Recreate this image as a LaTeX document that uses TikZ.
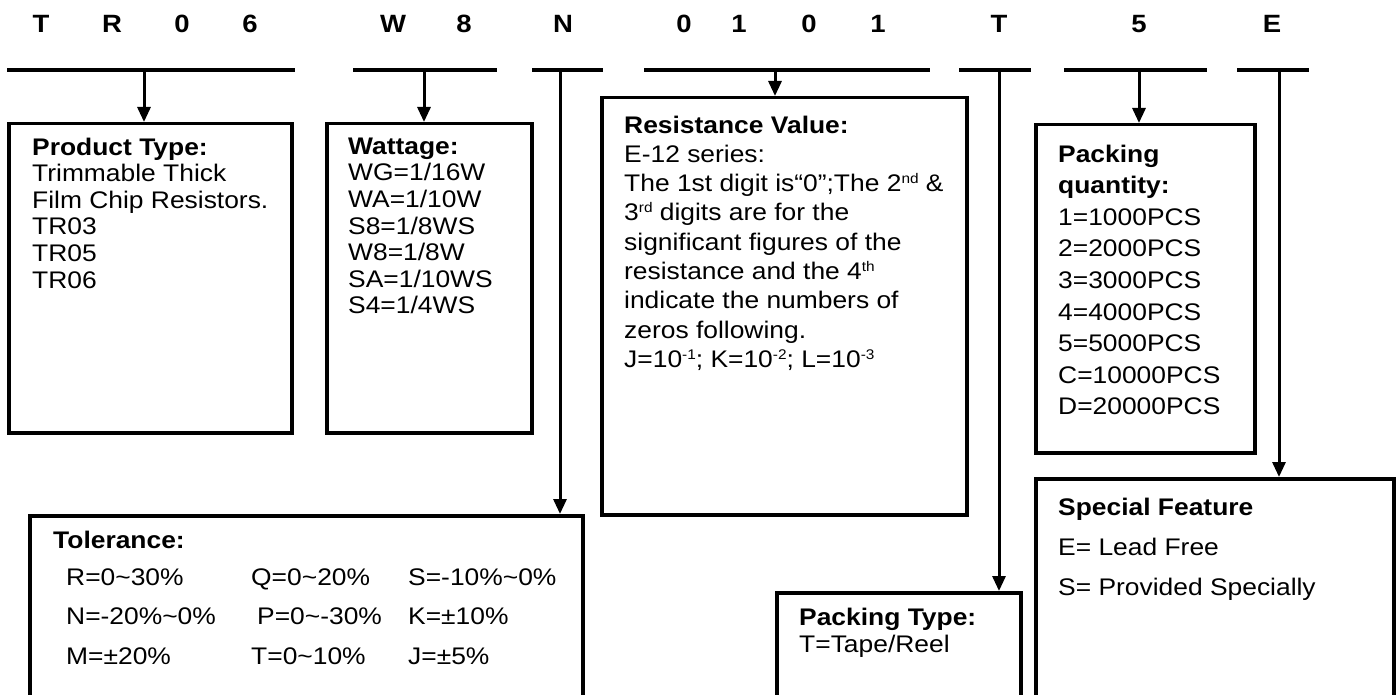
\documentclass[tikz,border=0pt]{standalone}
\usepackage{fontspec}
\setmainfont{Liberation Sans}[FakeStretch=1.1]
\usetikzlibrary{arrows.meta}

\newcommand{\hisup}[1]{\raisebox{8pt}{\fontsize{14}{14}\selectfont #1}}

\tikzset{
  seg/.style={line width=3.5pt},
  box/.style={draw, line width=3.5pt, anchor=north west, inner sep=0pt},
  txt/.style={anchor=north west, inner sep=0pt, align=left,
              font=\fontsize{24}{26.6}\selectfont},
  lead/.style={line width=3pt, -{Triangle[length=15pt,width=13pt]}},
  digit/.style={anchor=base, inner sep=0pt, font=\fontsize{25}{30}\selectfont\bfseries}
}

\begin{document}
\begin{tikzpicture}[x=1pt,y=-1pt]
   \useasboundingbox (0,0) rectangle (1398,695);
   \clip (0,0) rectangle (1398,695);

   \foreach \c/\x [count=\i] in {T/41,R/112,0/182,6/250,W/393,8/464,N/563,
                                 0/684,1/739,0/809,1/878,T/999,5/1139,E/1272}
             {
               \node[digit] (d\i) at (\x,33) {\c};
             }
   \foreach \xa/\xb in {7/295,353/497,532/603,644/930,959/1031,1064/1207,1237/1309}
             {
               \draw[seg] (\xa,70) -- (\xb,70);
             }

   \coordinate (sPT) at (144,70);
   \coordinate (sW)  at (424,70);
   \coordinate (sN)  at (560,70);
   \coordinate (sR)  at (775,70);
   \coordinate (sT)  at (999,70);
   \coordinate (sQ)  at (1139,70);
   \coordinate (sE)  at (1279,70);

   \node[box, minimum width=283pt, minimum height=309pt] (prod) at (7,122) {};
   \node[box, minimum width=205pt, minimum height=309pt] (watt) at (325,122) {};
   \node[box, minimum width=365pt, minimum height=417pt] (res)  at (600,96) {};
   \node[box, minimum width=219pt, minimum height=328pt] (qty)  at (1034,123) {};
   \node[box, minimum width=553pt, minimum height=250pt] (tol)  at (28,514) {};
   \node[box, minimum width=244pt, minimum height=150pt] (ptyp) at (775,591) {};
   \node[box, minimum width=358pt, minimum height=260pt] (spec) at (1034,477) {};

   \draw[lead] (sPT) -- (sPT |- prod.north);
   \draw[lead] (sW)  -- (sW |- watt.north);
   \draw[lead] (sN)  -- (sN |- tol.north);
   \draw[lead] (sR)  -- (sR |- res.north);
   \draw[lead] (sT)  -- (sT |- ptyp.north);
   \draw[lead] (sQ)  -- (sQ |- qty.north);
   \draw[lead] (sE)  -- (sE |- spec.north);

   \node[txt] (prodtxt) at (32,137.5)
        {\textbf{Product Type:}\\Trimmable Thick\\Film Chip Resistors.\\TR03\\TR05\\TR06};
   \node[txt] (watttxt) at (348,137.5)
        {\textbf{Wattage:}\\WG=1/16W\\WA=1/10W\\S8=1/8WS\\W8=1/8W\\SA=1/10WS\\S4=1/4WS};
   \node[txt, font=\fontsize{24}{29.3}\selectfont] (restxt) at (624,115.5)
        {\textbf{Resistance Value:}\\E-12 series:\\
         The 1st digit is“0”;The 2\hisup{nd} \&\\
         3\hisup{rd} digits are for the\\significant figures of the\\
         resistance and the 4\hisup{th}\\indicate the numbers of\\
         zeros following.\\
         J=10\hisup{-1}; K=10\hisup{-2}; L=10\hisup{-3}};
   \node[txt, font=\fontsize{24}{31.6}\selectfont] (qtytxt) at (1058,144.5)
        {\textbf{Packing}\\\textbf{quantity:}\\1=1000PCS\\2=2000PCS\\3=3000PCS\\
         4=4000PCS\\5=5000PCS\\C=10000PCS\\D=20000PCS};

   \node[txt] (toltitle) at (53,530.5) {\textbf{Tolerance:}};
   \node[txt, font=\fontsize{24}{39.5}\selectfont] (tolA) at (66,568.5)
        {R=0\textasciitilde30\%\\N=-20\%\textasciitilde0\%\\M=±20\%};
   \node[txt, font=\fontsize{24}{39.5}\selectfont] (tolB) at (251,568.5)
        {Q=0\textasciitilde20\%\\\hspace*{6pt}P=0\textasciitilde-30\%\\T=0\textasciitilde10\%};
   \node[txt, font=\fontsize{24}{39.5}\selectfont] (tolC) at (408,568.5)
        {S=-10\%\textasciitilde0\%\\K=±10\%\\J=±5\%};

   \node[txt, font=\fontsize{24}{27}\selectfont] (ptyptxt) at (799,607.5)
        {\textbf{Packing Type:}\\T=Tape/Reel};
   \node[txt, font=\fontsize{24}{40}\selectfont] (spectxt) at (1058,497.5)
        {\textbf{Special Feature}\\E= Lead Free\\S= Provided Specially};
\end{tikzpicture}
\end{document}
